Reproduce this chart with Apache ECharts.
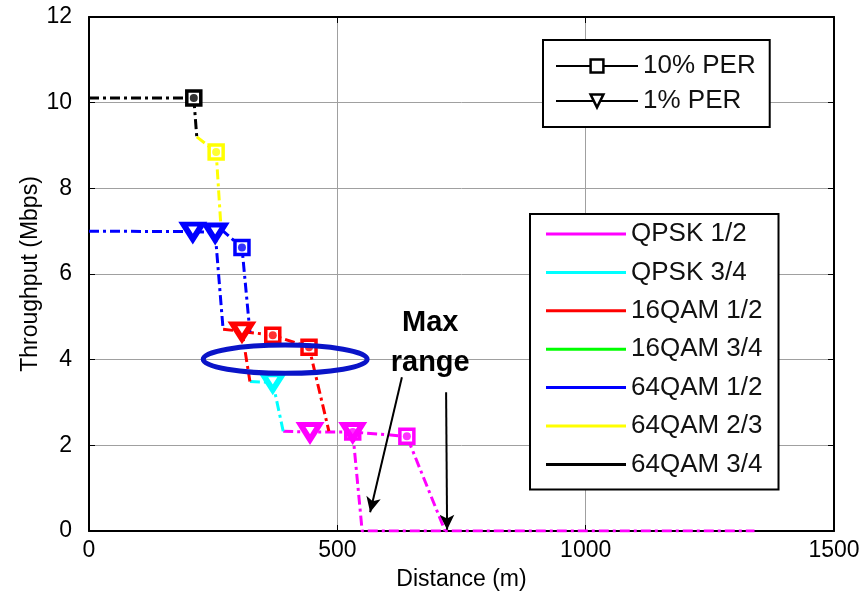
<!DOCTYPE html>
<html><head><meta charset="utf-8">
<script src="https://cdn.jsdelivr.net/npm/echarts@6/dist/echarts.min.js"></script>
<style>html,body{margin:0;padding:0;background:#fff}#c{width:865px;height:596px}</style>
</head><body><div id="c"></div>
<script>
// ---------------- data ----------------
const mcsNames = ['QPSK 1/2','QPSK 3/4','16QAM 1/2','16QAM 3/4','64QAM 1/2','64QAM 2/3','64QAM 3/4'];
const perNames = ['10% PER','1% PER'];
const xTicks = [0, 500, 1000, 1500];
const yTicks = [0, 2, 4, 6, 8, 10, 12];

// throughput curve pieces per MCS: [distance (m), throughput (Mbps)]
const qpsk12Segments = [
  [[391,2.33],[445,2.31],[531,2.31],[640,2.21],[717,0]],
  [[531,2.31],[550,0],[1340,0]]
];
const qpsk34Segments = [[[324,3.49],[370,3.47],[391,2.33]]];
const qam16r12Segments = [
  [[270,4.71],[308,4.66],[370,4.57],[443,4.29],[483,2.33]],
  [[308,4.66],[324,3.49]]
];
const qam16r34Segments = [];
const qam64r12Segments = [
  [[0,7.0],[209,6.99],[254,6.97],[270,4.71]],
  [[266,7.04],[308,6.62],[324,4.64]]
];
const qam64r23Segments = [[[217,9.20],[256,8.85],[266,7.04]]];
const qam64r34Segments = [[[0,10.11],[211,10.11],[217,9.20]]];

// PER markers
const per10X = [211, 256, 308, 370, 443, 531, 640];
const per10Y = [10.11, 8.85, 6.62, 4.57, 4.29, 2.31, 2.21];
const per10Mcs = ['64QAM 3/4','64QAM 2/3','64QAM 1/2','16QAM 1/2','16QAM 1/2','QPSK 1/2','QPSK 1/2'];
const per1X = [209, 254, 308, 370, 445, 531];
const per1Y = [6.99, 6.97, 4.66, 3.47, 2.31, 2.31];
const per1Mcs = ['64QAM 1/2','64QAM 1/2','16QAM 1/2','QPSK 3/4','QPSK 1/2','QPSK 1/2'];

// annotations
const ellipseCenter = [395, 4.01];
const ellipseRadius = [165, 0.33];
const arrowStart = [[630, 3.59], [719, 3.24]];
const arrowEnd = [[566, 0.44], [721, 0.03]];
const noteText = 'Max\nrange';
const notePos = [687, 4.40];

// ---------------- styles ----------------
const FONT = 'Liberation Sans, Arial, Helvetica, sans-serif';
const mcsColors = {
  'QPSK 1/2':'#ff00ff','QPSK 3/4':'#00ffff','16QAM 1/2':'#ff0000','16QAM 3/4':'#00ff00',
  '64QAM 1/2':'#0000ff','64QAM 2/3':'#ffff00','64QAM 3/4':'#000000'
};
const segmentsByMcs = {
  'QPSK 1/2': qpsk12Segments, 'QPSK 3/4': qpsk34Segments, '16QAM 1/2': qam16r12Segments,
  '16QAM 3/4': qam16r34Segments, '64QAM 1/2': qam64r12Segments, '64QAM 2/3': qam64r23Segments,
  '64QAM 3/4': qam64r34Segments
};
const dashDot = [10, 4, 3, 4];

const series = [];
mcsNames.forEach(function (name) {
  const segs = segmentsByMcs[name].length ? segmentsByMcs[name] : [[]];
  segs.forEach(function (seg) {
    series.push({
      type: 'line', name: name, data: seg, symbol: 'none', z: 2,
      lineStyle: { color: mcsColors[name], width: 3, type: dashDot },
      itemStyle: { color: mcsColors[name] }
    });
  });
});

series.push({
  type: 'line', name: '10% PER', z: 4, symbol: 'rect', symbolSize: 14,
  lineStyle: { color: '#000', opacity: 0 },
  itemStyle: { color: '#fff', borderColor: '#000', borderWidth: 3.5 },
  data: per10X.map(function (x, i) {
    return { value: [x, per10Y[i]], itemStyle: { color: '#fff', borderColor: mcsColors[per10Mcs[i]], borderWidth: 3.5 } };
  })
});
series.push({
  type: 'scatter', z: 5, symbol: 'circle', symbolSize: 8,
  data: per10X.map(function (x, i) {
    return { value: [x, per10Y[i]], itemStyle: { color: mcsColors[per10Mcs[i]] } };
  })
});
series.push({
  type: 'line', name: '1% PER', z: 4, symbol: 'triangle', symbolRotate: 180, symbolSize: [19, 15],
  lineStyle: { color: '#000', opacity: 0 },
  itemStyle: { color: '#fff', borderColor: '#000', borderWidth: 5 },
  data: per1X.map(function (x, i) {
    return { value: [x, per1Y[i]], itemStyle: { color: '#fff', borderColor: mcsColors[per1Mcs[i]], borderWidth: 5.5 } };
  })
});

// ellipse
series.push({
  type: 'custom', z: 6, clip: false,
  data: [[ellipseCenter[0], ellipseCenter[1], ellipseRadius[0], ellipseRadius[1]]],
  renderItem: function (params, api) {
    const c = api.coord([api.value(0), api.value(1)]);
    const s = api.size([api.value(2), api.value(3)]);
    return {
      type: 'ellipse',
      shape: { cx: c[0], cy: c[1], rx: s[0], ry: s[1] },
      style: { fill: 'none', stroke: '#0a14c8', lineWidth: 5 }
    };
  }
});
// text
series.push({
  type: 'custom', z: 7, clip: false,
  data: [[notePos[0], notePos[1]]],
  renderItem: function (params, api) {
    const c = api.coord([api.value(0), api.value(1)]);
    return {
      type: 'text', x: c[0], y: c[1],
      style: { text: noteText, fill: '#000', fontSize: 29, fontWeight: 'bold', fontFamily: FONT,
               align: 'center', verticalAlign: 'middle', lineHeight: 40 }
    };
  }
});
// arrows
series.push({
  type: 'line', data: [], z: 7,
  markLine: {
    silent: true, animation: false,
    symbol: ['none', 'arrow'], symbolSize: [11, 15],
    label: { show: false },
    lineStyle: { color: '#000', width: 2, type: 'solid' },
    emphasis: { disabled: true },
    data: arrowStart.map(function (s, i) {
      return [{ coord: s }, { coord: arrowEnd[i] }];
    })
  }
});

const axisCommon = {
  type: 'value',
  axisLine: { show: true, onZero: false, lineStyle: { color: '#000', width: 2 } },
  axisTick: { show: true, inside: true, length: 6, lineStyle: { color: '#000', width: 1 } }
};
const plainNum = function (v) { return String(v); };

const option = {
  animation: false,
  backgroundColor: '#fff',
  grid: { left: 89, right: 31, top: 17, bottom: 64 },
  xAxis: [
    Object.assign({}, axisCommon, {
      min: xTicks[0], max: xTicks[xTicks.length - 1], interval: xTicks[1] - xTicks[0],
      axisLabel: { fontSize: 23, color: '#000', margin: 8, fontFamily: FONT, formatter: plainNum },
      splitLine: { show: true, lineStyle: { color: '#a0a0a0', width: 1 } },
      name: 'Distance (m)', nameLocation: 'middle', nameGap: 37,
      nameTextStyle: { fontSize: 23, color: '#000', fontFamily: FONT }
    }),
    Object.assign({}, axisCommon, {
      position: 'top',
      min: xTicks[0], max: xTicks[xTicks.length - 1], interval: xTicks[1] - xTicks[0],
      axisLabel: { show: false }, splitLine: { show: false }
    })
  ],
  yAxis: [
    Object.assign({}, axisCommon, {
      min: yTicks[0], max: yTicks[yTicks.length - 1], interval: yTicks[1] - yTicks[0],
      axisLabel: { fontSize: 23, color: '#000', margin: 17, fontFamily: FONT, formatter: plainNum },
      splitLine: { show: true, lineStyle: { color: '#a0a0a0', width: 1 } },
      name: 'Throughput (Mbps)', nameLocation: 'middle', nameGap: 47, nameMoveOverlap: false,
      nameTextStyle: { fontSize: 23, color: '#000', fontFamily: FONT }
    }),
    Object.assign({}, axisCommon, {
      position: 'right',
      min: yTicks[0], max: yTicks[yTicks.length - 1], interval: yTicks[1] - yTicks[0],
      axisLabel: { show: false }, splitLine: { show: false }
    })
  ],
  legend: [
    {
      data: perNames, orient: 'vertical', left: 543, top: 40,
      padding: [13, 14, 13, 12], itemGap: 9, itemWidth: 82, itemHeight: 16,
      backgroundColor: '#fff', borderColor: '#000', borderWidth: 2,
      selectedMode: false, z: 10,
      textStyle: { fontSize: 26, color: '#111', fontFamily: FONT },
      lineStyle: { color: '#000', width: 2, opacity: 1, type: 'solid' },
      itemStyle: { color: '#fff', borderColor: '#000', borderWidth: 2.5 }
    },
    {
      data: mcsNames.map(function (n) { return { name: n, icon: 'rect' }; }),
      orient: 'vertical', left: 530, top: 214,
      padding: [7, 16, 12, 16], itemGap: 12.4, itemWidth: 80, itemHeight: 3,
      backgroundColor: '#fff', borderColor: '#000', borderWidth: 2,
      selectedMode: false, z: 10,
      textStyle: { fontSize: 26, color: '#111', fontFamily: FONT }
    }
  ],
  series: series
};

const chart = echarts.init(document.getElementById('c'), null, { renderer: 'canvas' });
chart.setOption(option);
</script>
</body></html>
